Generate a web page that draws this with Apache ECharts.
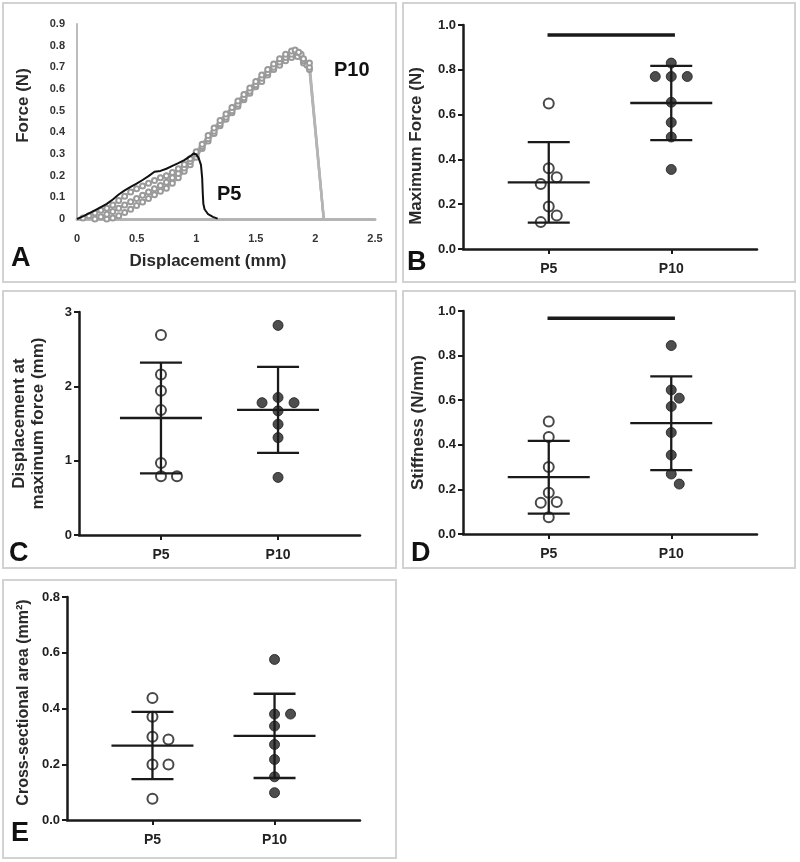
<!DOCTYPE html>
<html>
<head>
<meta charset="utf-8">
<script src="https://cdn.jsdelivr.net/npm/echarts@6/dist/echarts.min.js"></script>
<style>html,body{margin:0;padding:0;background:#fff}#c{width:800px;height:862px}</style>
</head>
<body>
<div id="c"></div>
<script>
// ---------- DATA ----------
const categories = ['P5', 'P10'];

// Panel A: force–displacement traces [displacement (mm), force (N)]
const p5Trace = [[0,0],[0.05,0.012],[0.1,0.026],[0.15,0.04],[0.2,0.055],[0.25,0.07],[0.3,0.09],[0.35,0.113],[0.4,0.132],[0.45,0.148],[0.5,0.163],[0.55,0.18],[0.6,0.198],[0.65,0.218],[0.7,0.222],[0.75,0.232],[0.8,0.245],[0.85,0.258],[0.9,0.272],[0.95,0.29],[0.98,0.303],[1.0,0.298],[1.02,0.282],[1.04,0.25],[1.05,0.19],[1.055,0.12],[1.06,0.07],[1.07,0.045],[1.1,0.022],[1.14,0.01],[1.18,0.002]];
const p10TraceUpper = [[0.05,0.005],[0.1,0.015],[0.15,0.028],[0.2,0.04],[0.25,0.05],[0.3,0.065],[0.35,0.085],[0.4,0.105],[0.45,0.125],[0.5,0.14],[0.55,0.152],[0.6,0.165],[0.65,0.178],[0.7,0.19],[0.75,0.2],[0.8,0.215],[0.85,0.232],[0.9,0.252],[0.95,0.278],[1.0,0.31],[1.05,0.345],[1.1,0.385],[1.15,0.42],[1.2,0.455],[1.25,0.485],[1.3,0.515],[1.35,0.545],[1.4,0.575],[1.45,0.605],[1.5,0.635],[1.55,0.665],[1.6,0.69],[1.65,0.715],[1.7,0.74],[1.75,0.76],[1.8,0.775],[1.83,0.78],[1.86,0.77],[1.9,0.74],[1.95,0.72],[2.07,0]];
const p10TraceMiddle = [[0.15,0],[0.2,0.01],[0.25,0.022],[0.3,0.035],[0.35,0.05],[0.4,0.065],[0.45,0.08],[0.5,0.095],[0.55,0.11],[0.6,0.125],[0.65,0.14],[0.7,0.155],[0.75,0.17],[0.8,0.19],[0.85,0.21],[0.9,0.235],[0.95,0.265],[1.0,0.3],[1.05,0.335],[1.1,0.37],[1.15,0.405],[1.2,0.44],[1.25,0.47],[1.3,0.5],[1.35,0.53],[1.4,0.56],[1.45,0.59],[1.5,0.62],[1.55,0.65],[1.6,0.675],[1.65,0.7],[1.7,0.725],[1.75,0.745],[1.8,0.76],[1.85,0.77],[1.88,0.76],[1.9,0.73],[1.93,0.71],[1.95,0.7],[2.07,0]];
const p10TraceLower = [[0.25,0],[0.3,0.005],[0.35,0.015],[0.4,0.03],[0.45,0.045],[0.5,0.062],[0.55,0.078],[0.6,0.095],[0.65,0.112],[0.7,0.128],[0.75,0.142],[0.8,0.165],[0.85,0.19],[0.9,0.22],[0.95,0.25],[1.0,0.285],[1.05,0.325],[1.1,0.36],[1.15,0.395],[1.2,0.43],[1.25,0.46],[1.3,0.49],[1.35,0.52],[1.4,0.55],[1.45,0.58],[1.5,0.61],[1.55,0.635],[1.6,0.665],[1.65,0.69],[1.7,0.71],[1.75,0.73],[1.8,0.745],[1.85,0.75],[1.9,0.72],[1.95,0.69],[2.07,0]];

// Panel B: maximum force (N)
const maxForceP5  = [0.65, 0.36, 0.32, 0.29, 0.19, 0.15, 0.12];
const maxForceP10 = [0.83, 0.77, 0.77, 0.77, 0.655, 0.565, 0.50, 0.355];
// Panel C: displacement at maximum force (mm)
const dispP5  = [2.69, 2.16, 1.94, 1.68, 0.97, 0.79, 0.79];
const dispP10 = [2.82, 1.85, 1.78, 1.78, 1.67, 1.49, 1.31, 0.775];
// Panel D: stiffness (N/mm)
const stiffP5  = [0.505, 0.435, 0.30, 0.185, 0.143, 0.14, 0.075];
const stiffP10 = [0.845, 0.646, 0.609, 0.572, 0.455, 0.354, 0.269, 0.224];
// Panel E: cross-sectional area (mm²)
const areaP5  = [0.438, 0.370, 0.299, 0.289, 0.199, 0.199, 0.076];
const areaP10 = [0.576, 0.38, 0.38, 0.337, 0.271, 0.217, 0.155, 0.098];

// significance bars: [from category, to category, level]
const sigBarB = ['P5', 'P10', 0.955];
const sigBarD = ['P5', 'P10', 0.967];

// ---------- LAYOUT / STYLE ----------
const FONT = '"Liberation Sans", Arial, Helvetica, sans-serif';
const INK = '#1a1a1a';
const grids = [
  {left: 77,  top: 24,  width: 298, height: 195}, // A
  {left: 463, top: 25,  width: 294, height: 224}, // B
  {left: 79,  top: 312, width: 281, height: 223}, // C
  {left: 463, top: 311, width: 294, height: 223}, // D
  {left: 67,  top: 597, width: 293, height: 223}  // E
];
const XMIN = 0.3, XMAX = 2.7;
const catX = name => categories.indexOf(name) + 1;

function mean(a){ return a.reduce((s,v)=>s+v,0)/a.length; }
function sd(a){ const m = mean(a); return Math.sqrt(a.reduce((s,v)=>s+(v-m)*(v-m),0)/(a.length-1)); }

// simple beeswarm: spread overlapping dots sideways (pixel offsets)
function swarm(values, pxPerUnit, diam, step){
  const order = values.map((v,i)=>i).sort((a,b)=>values[b]-values[a]);
  const placed = []; const offs = new Array(values.length).fill(0);
  for (const i of order){
    const y = values[i]*pxPerUnit;
    for (let k=0;k<30;k++){
      const o = k===0 ? 0 : (k%2 ? 1 : -1)*Math.ceil(k/2)*step;
      if (placed.every(p => Math.hypot(p.x-o, p.y-y) >= diam)){ offs[i]=o; placed.push({x:o,y}); break; }
    }
  }
  return offs;
}

const yRanges = {1:[0,1,0.2], 2:[0,3,1], 3:[0,1,0.2], 4:[0,0.8,0.2]};

function dotSeries(gi, values, cat, hollow){
  const g = grids[gi]; const r = yRanges[gi];
  const pxY = g.height/(r[1]-r[0]); const pxX = g.width/(XMAX-XMIN);
  const offs = swarm(values, pxY, 11, 8);
  return {
    type:'scatter', xAxisIndex: gi, yAxisIndex: gi, z: 3,
    symbol:'circle', symbolSize: 10,
    itemStyle: hollow ? {color:'#fff', borderColor: INK, borderWidth: 2} : {color:'#222', borderColor: INK, borderWidth: 1},
    data: values.map((v,i)=>[catX(cat) + offs[i]/pxX, v]),
    silent: true
  };
}

function errSeries(gi, a5, a10){
  return {
    type:'custom', xAxisIndex: gi, yAxisIndex: gi, z: 5, silent: true,
    data: [[catX('P5'), mean(a5), sd(a5)], [catX('P10'), mean(a10), sd(a10)]],
    renderItem: function(params, api){
      const x = api.value(0), m = api.value(1), s = api.value(2);
      const c = api.coord([x, m]), t = api.coord([x, m+s]), b = api.coord([x, m-s]);
      const st = {stroke: INK, lineWidth: 2.3};
      return {type:'group', children:[
        {type:'line', shape:{x1:c[0], y1:t[1], x2:c[0], y2:b[1]}, style: st},
        {type:'line', shape:{x1:c[0]-21, y1:t[1], x2:c[0]+21, y2:t[1]}, style: st},
        {type:'line', shape:{x1:c[0]-21, y1:b[1], x2:c[0]+21, y2:b[1]}, style: st},
        {type:'line', shape:{x1:c[0]-41, y1:c[1], x2:c[0]+41, y2:c[1]}, style: st}
      ]};
    }
  };
}

function sigSeries(gi, bar){
  return {
    type:'line', xAxisIndex: gi, yAxisIndex: gi, symbol:'none', silent: true,
    lineStyle:{color: INK, width: 3.5},
    data: [[catX(bar[0]) - 0.01, bar[2]], [catX(bar[1]) + 0.03, bar[2]]]
  };
}

function catXAxis(gi){
  return {
    type:'value', gridIndex: gi, min: XMIN, max: XMAX,
    axisLine:{show:true, onZero:false, lineStyle:{color: INK, width: 2.5}},
    axisTick:{show:true, customValues:[1,2], length:5, lineStyle:{color: INK, width: 2}},
    axisLabel:{customValues:[1,2], formatter: v => categories[Math.round(v)-1] || '', margin: 13,
      color:'#222', fontWeight:'bold', fontSize: 14, fontFamily: FONT},
    splitLine:{show:false}
  };
}
function valYAxis(gi, name, nameGap, nameStyle, digits){
  const r = yRanges[gi];
  return {
    type:'value', gridIndex: gi, min: r[0], max: r[1], interval: r[2],
    name: name, nameLocation:'middle', nameRotate: 90, nameGap: nameGap,
    nameTextStyle: Object.assign({fontFamily: FONT, fontWeight:'bold', fontSize: 17, color:'#2a2a2a'}, nameStyle),
    axisLine:{show:true, lineStyle:{color: INK, width: 2.5}},
    axisTick:{show:true, length:5, lineStyle:{color: INK, width: 2}},
    axisLabel:{margin: 7, color:'#222', fontWeight:'bold', fontSize: 13, fontFamily: FONT,
      formatter: v => v.toFixed(digits)},
    splitLine:{show:false}
  };
}

const traceStyle = (data) => ({
  type:'line', xAxisIndex:0, yAxisIndex:0, data: data, silent: true,
  symbol: (v, p) => p.dataIndex === data.length - 1 ? 'none' : 'emptyCircle',
  symbolSize: 5, showAllSymbol: true,
  lineStyle:{color:'#b4b4b4', width: 2.5},
  itemStyle:{color:'#9a9a9a', borderColor:'#9a9a9a', borderWidth: 1}
});

const option = {
  animation: false,
  backgroundColor: '#fff',
  grid: grids.map(g => Object.assign({containLabel:false}, g)),
  xAxis: [
    {type:'value', gridIndex:0, min:0, max:2.5, interval:0.5,
     name:'Displacement (mm)', nameLocation:'middle', nameGap: 34,
     nameTextStyle:{fontFamily: FONT, fontWeight:'bold', fontSize:17, color:'#2a2a2a', padding:[0,36,0,0]},
     axisLine:{show:true, onZero:false, lineStyle:{color:'#b4b4b4', width: 3}},
     axisTick:{show:false},
     axisLabel:{margin: 14, color:'#333', fontWeight:'bold', fontSize: 11, fontFamily: FONT},
     splitLine:{show:false}},
    catXAxis(1), catXAxis(2), catXAxis(3), catXAxis(4)
  ],
  yAxis: [
    {type:'value', gridIndex:0, min:0, max:0.9, interval:0.1,
     name:'Force (N)', nameLocation:'middle', nameRotate:90, nameGap: 45,
     nameTextStyle:{fontFamily: FONT, fontWeight:'bold', fontSize:17, color:'#2a2a2a', padding:[0,0,0,32]},
     axisLine:{show:true, lineStyle:{color:'#bdbdbd', width: 2}},
     axisTick:{show:false},
     axisLabel:{margin: 12, color:'#333', fontWeight:'bold', fontSize: 11, fontFamily: FONT},
     splitLine:{show:false}},
    valYAxis(1, 'Maximum Force (N)', 38, {padding:[0,18,0,0]}, 1),
    valYAxis(2, 'Displacement at\nmaximum force (mm)', 31, {lineHeight: 19}, 0),
    valYAxis(3, 'Stiffness (N/mm)', 36, {}, 1),
    valYAxis(4, 'Cross-sectional area (mm²)', 35, {fontSize: 16, padding:[0,0,0,12]}, 1)
  ],
  series: [
    traceStyle(p10TraceLower), traceStyle(p10TraceMiddle), traceStyle(p10TraceUpper),
    {type:'line', xAxisIndex:0, yAxisIndex:0, data: p5Trace, silent:true, symbol:'none', z: 4,
     lineStyle:{color:'#111', width: 2}},
    dotSeries(1, maxForceP5, 'P5', true), dotSeries(1, maxForceP10, 'P10', false), errSeries(1, maxForceP5, maxForceP10), sigSeries(1, sigBarB),
    dotSeries(2, dispP5, 'P5', true), dotSeries(2, dispP10, 'P10', false), errSeries(2, dispP5, dispP10),
    dotSeries(3, stiffP5, 'P5', true), dotSeries(3, stiffP10, 'P10', false), errSeries(3, stiffP5, stiffP10), sigSeries(3, sigBarD),
    dotSeries(4, areaP5, 'P5', true), dotSeries(4, areaP10, 'P10', false), errSeries(4, areaP5, areaP10)
  ],
  graphic: [
    // panel frames
    ...[[3,3,393,279],[403,3,392,279],[3,291,393,277],[403,291,392,277],[3,580,393,278]].map(r => ({
      type:'rect', silent:true, shape:{x:r[0], y:r[1], width:r[2], height:r[3]},
      style:{fill:'none', stroke:'#d2d2d2', lineWidth:2}, z: 0
    })),
    // panel letters
    ...[['A',11,245],['B',407,249],['C',9,540],['D',411,540],['E',11,820]].map(l => ({
      type:'text', silent:true, left:l[1], top:l[2],
      style:{text:l[0], fontFamily: FONT, fontWeight:'bold', fontSize:27, fill:'#111'}
    })),
    {type:'text', silent:true, left:334, top:60, style:{text:'P10', fontFamily: FONT, fontWeight:'bold', fontSize:20, fill:'#111'}},
    {type:'text', silent:true, left:217, top:184, style:{text:'P5', fontFamily: FONT, fontWeight:'bold', fontSize:20, fill:'#111'}}
  ]
};

const chart = echarts.init(document.getElementById('c'), null, {renderer:'canvas', width:800, height:862});
chart.setOption(option);
</script>
</body>
</html>
